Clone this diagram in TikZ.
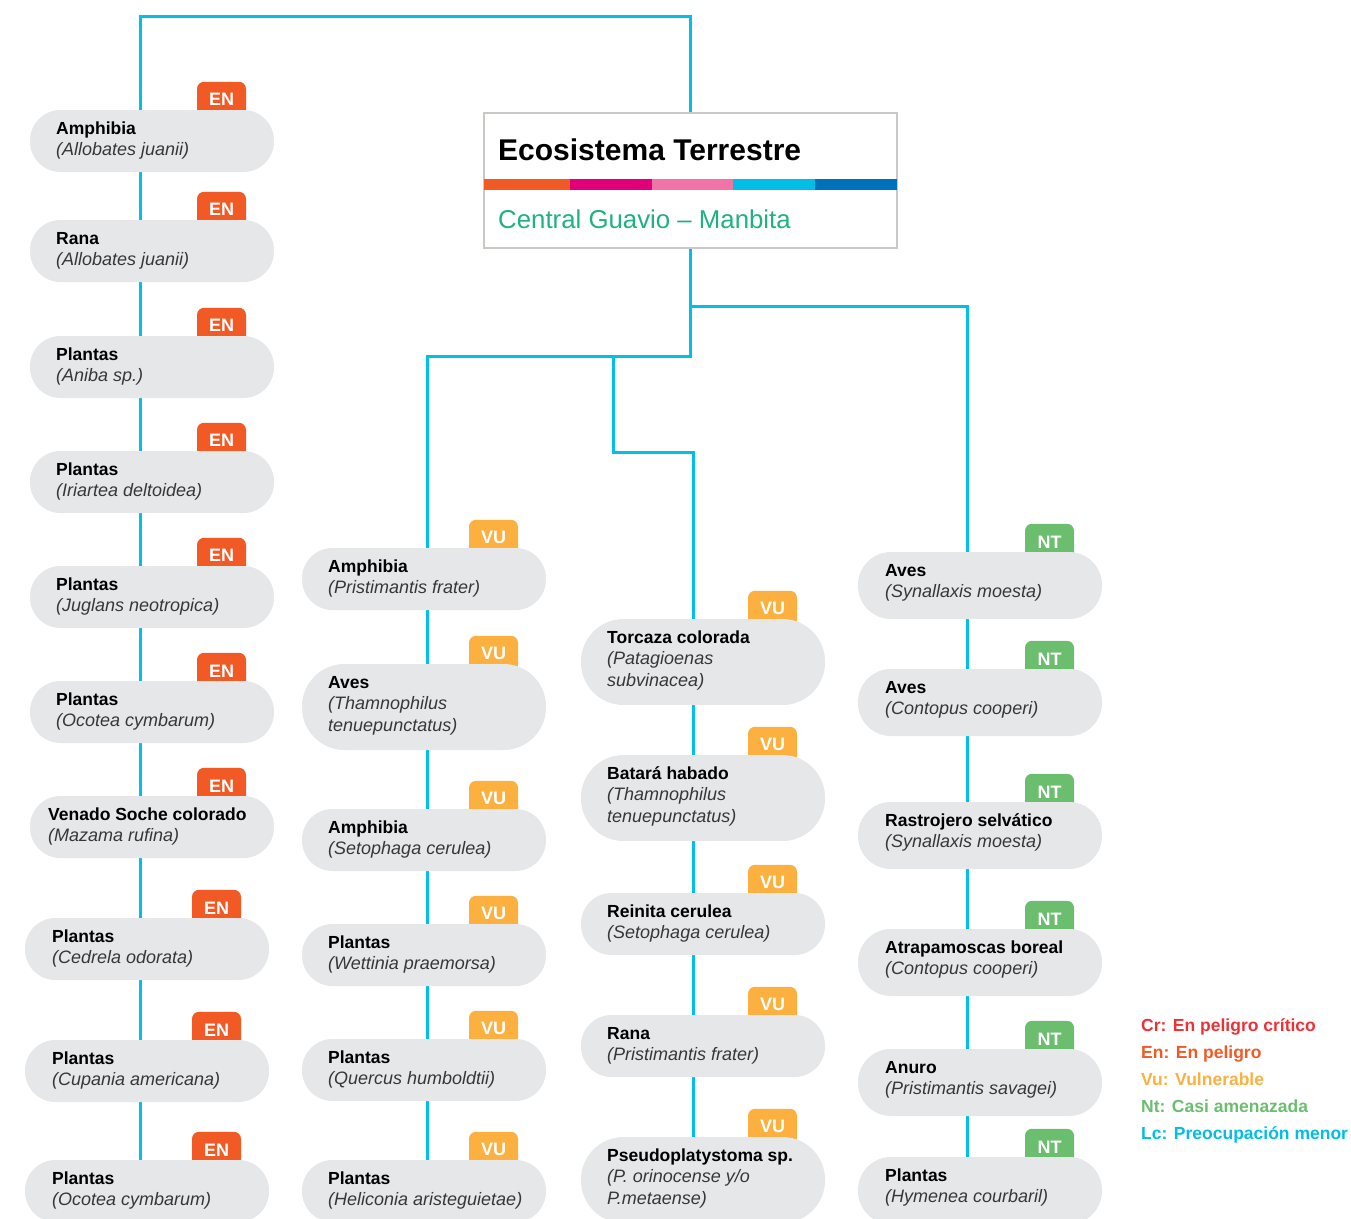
\documentclass[tikz,border=0pt]{standalone}
\usepackage{fontspec}
\setmainfont{Liberation Sans}
\definecolor{conncol}{RGB}{0,192,232}
\definecolor{pillgray}{RGB}{230,231,232}
\definecolor{colEN}{RGB}{241,90,36}
\definecolor{colVU}{RGB}{251,176,64}
\definecolor{colNT}{RGB}{106,190,110}
\definecolor{colCR}{RGB}{237,50,55}
\definecolor{colLC}{RGB}{0,190,230}
\definecolor{boxgray}{RGB}{200,200,196}
\definecolor{subgreen}{RGB}{30,178,128}
\definecolor{stA}{RGB}{241,90,36}
\definecolor{stB}{RGB}{226,0,122}
\definecolor{stC}{RGB}{240,117,166}
\definecolor{stD}{RGB}{0,190,230}
\definecolor{stE}{RGB}{0,114,188}
\definecolor{itgray}{RGB}{55,55,55}
\pgfdeclarelayer{bg}
\pgfsetlayers{bg,main}
\tikzset{
  conn/.style={draw=conncol, line width=3pt},
  pill/.style={fill=pillgray, minimum width=244pt, inner sep=0pt},
  tagbox/.style={minimum width=49pt, minimum height=36pt, inner sep=0pt, rounded corners=7pt, text=white,
    font=\fontsize{18}{20}\selectfont\bfseries},
  boldtext/.style={inner sep=0pt, font=\fontsize{17.5}{22}\selectfont\bfseries, text=black},
  itext/.style={inner sep=0pt, font=\fontsize{18}{22}\selectfont\itshape, text=itgray},
  legend/.style={inner sep=0pt, anchor=base west, font=\fontsize{17.5}{22}\selectfont\bfseries},
}
% [#1 text offset] #2 name, #3 left, #4 top, #5 height, #6 tag, #7 bold, #8 italic1, #9 italic2
\newcommand\species[9][26]{%
  \node[tagbox, fill=col#6, anchor=south] (#2tag) at (#3+191.5,#4+8) {#6};
  \node[pill, minimum height=#5pt, rounded corners={#5*0.5pt-0.5pt}] (#2) at (#3+122,#4+#5/2) {};
  \node[boldtext, anchor=base west] (#2b) at (#3+#1,#4+24) {#7};
  \node[itext, anchor=base west] (#2i) at (#3+#1,#4+45) {#8};
  \if\relax\detokenize{#9}\relax\else
  \node[itext, anchor=base west] (#2j) at (#3+#1,#4+67) {#9};
  \fi
}
\begin{document}
\begin{tikzpicture}[x=1pt,y=-1pt]
\useasboundingbox (0,0) rectangle (1351,1218);
\clip (0,0) rectangle (1351,1218);

% title box
\node[draw=boxgray, line width=2pt, fill=white, minimum width=413pt, minimum height=135pt, inner sep=0pt, outer sep=0pt, anchor=north west] (eco) at (484,113) {};
\fill[stA] (484,179) rectangle (570,190);
\fill[stB] (570,179) rectangle (652,190);
\fill[stC] (652,179) rectangle (733,190);
\fill[stD] (733,179) rectangle (815,190);
\fill[stE] (815,179) rectangle (897,190);
\node[inner sep=0pt, anchor=base west, font=\fontsize{30}{34}\selectfont\bfseries] (title) at (498,160) {Ecosistema Terrestre};
\node[inner sep=0pt, anchor=base west, text=subgreen, font=\fontsize{25.8}{30}\selectfont] (subtitle) at (498,228) {Central Guavio -- Manbita};

% column 1
\species{a1}{30}{110}{62}{EN}{Amphibia}{(Allobates juanii)}{}
\species{a2}{30}{220}{62}{EN}{Rana}{(Allobates juanii)}{}
\species{a3}{30}{336}{62}{EN}{Plantas}{(Aniba sp.)}{}
\species{a4}{30}{451}{62}{EN}{Plantas}{(Iriartea deltoidea)}{}
\species{a5}{30}{566}{62}{EN}{Plantas}{(Juglans neotropica)}{}
\species{a6}{30}{681}{62}{EN}{Plantas}{(Ocotea cymbarum)}{}
\species[18]{a7}{30}{796}{62}{EN}{Venado Soche colorado}{(Mazama rufina)}{}
\species[27]{a8}{25}{918}{62}{EN}{Plantas}{(Cedrela odorata)}{}
\species[27]{a9}{25}{1040}{62}{EN}{Plantas}{(Cupania americana)}{}
\species[27]{a10}{25}{1160}{62}{EN}{Plantas}{(Ocotea cymbarum)}{}

% column 2
\species{b1}{302}{548}{62}{VU}{Amphibia}{(Pristimantis frater)}{}
\species{b2}{302}{664}{86}{VU}{Aves}{(Thamnophilus}{tenuepunctatus)}
\species{b3}{302}{809}{62}{VU}{Amphibia}{(Setophaga cerulea)}{}
\species{b4}{302}{924}{62}{VU}{Plantas}{(Wettinia praemorsa)}{}
\species{b5}{302}{1039}{62}{VU}{Plantas}{(Quercus humboldtii)}{}
\species{b6}{302}{1160}{62}{VU}{Plantas}{(Heliconia aristeguietae)}{}

% column 3
\species{c1}{581}{619}{86}{VU}{Torcaza colorada}{(Patagioenas}{subvinacea)}
\species{c2}{581}{755}{86}{VU}{Batará habado}{(Thamnophilus}{tenuepunctatus)}
\species{c3}{581}{893}{62}{VU}{Reinita cerulea}{(Setophaga cerulea)}{}
\species{c4}{581}{1015}{62}{VU}{Rana}{(Pristimantis frater)}{}
\species{c5}{581}{1137}{86}{VU}{Pseudoplatystoma sp.}{(P. orinocense y/o}{P.metaense)}

% column 4
\species[27]{d1}{858}{552}{67}{NT}{Aves}{(Synallaxis moesta)}{}
\species[27]{d2}{858}{669}{67}{NT}{Aves}{(Contopus cooperi)}{}
\species[27]{d3}{858}{802}{67}{NT}{Rastrojero selvático}{(Synallaxis moesta)}{}
\species[27]{d4}{858}{929}{67}{NT}{Atrapamoscas boreal}{(Contopus cooperi)}{}
\species[27]{d5}{858}{1049}{67}{NT}{Anuro}{(Pristimantis savagei)}{}
\species[27]{d6}{858}{1157}{67}{NT}{Plantas}{(Hymenea courbaril)}{}

% legend
\node[legend, text=colCR] (lcr) at (1141,1031) {Cr: En peligro crítico};
\node[legend, text=colEN] (len) at (1141,1058) {En: En peligro};
\node[legend, text=colVU] (lvu) at (1141,1085) {Vu: Vulnerable};
\node[legend, text=colNT] (lnt) at (1141,1112) {Nt: Casi amenazada};
\node[legend, text=colLC] (llc) at (1141,1139) {Lc: Preocupación menor};

% connectors
\coordinate (tl) at (140,16);
\coordinate (tr) at (690.5,16);
\coordinate (j0) at (690.5,306);
\coordinate (j1) at (690.5,356);
\coordinate (c2top) at (427,356);
\coordinate (c4top) at (967,306);
\coordinate (j2) at (613,356);
\coordinate (j3) at (613,452);
\coordinate (c3top) at (693,452);
\begin{pgfonlayer}{bg}
\draw[conn] (tl |- a10.center) -- (tl) -- (tr) -- (tr |- eco.north);
\draw[conn] (tr |- eco.south) -- (j1) -- (c2top) -- (c2top |- b6.center);
\draw[conn] (j0) -- (c4top) -- (c4top |- d6.center);
\draw[conn] (j2) -- (j3) -- (c3top) -- (c3top |- c5.center);
\end{pgfonlayer}
\end{tikzpicture}
\end{document}
